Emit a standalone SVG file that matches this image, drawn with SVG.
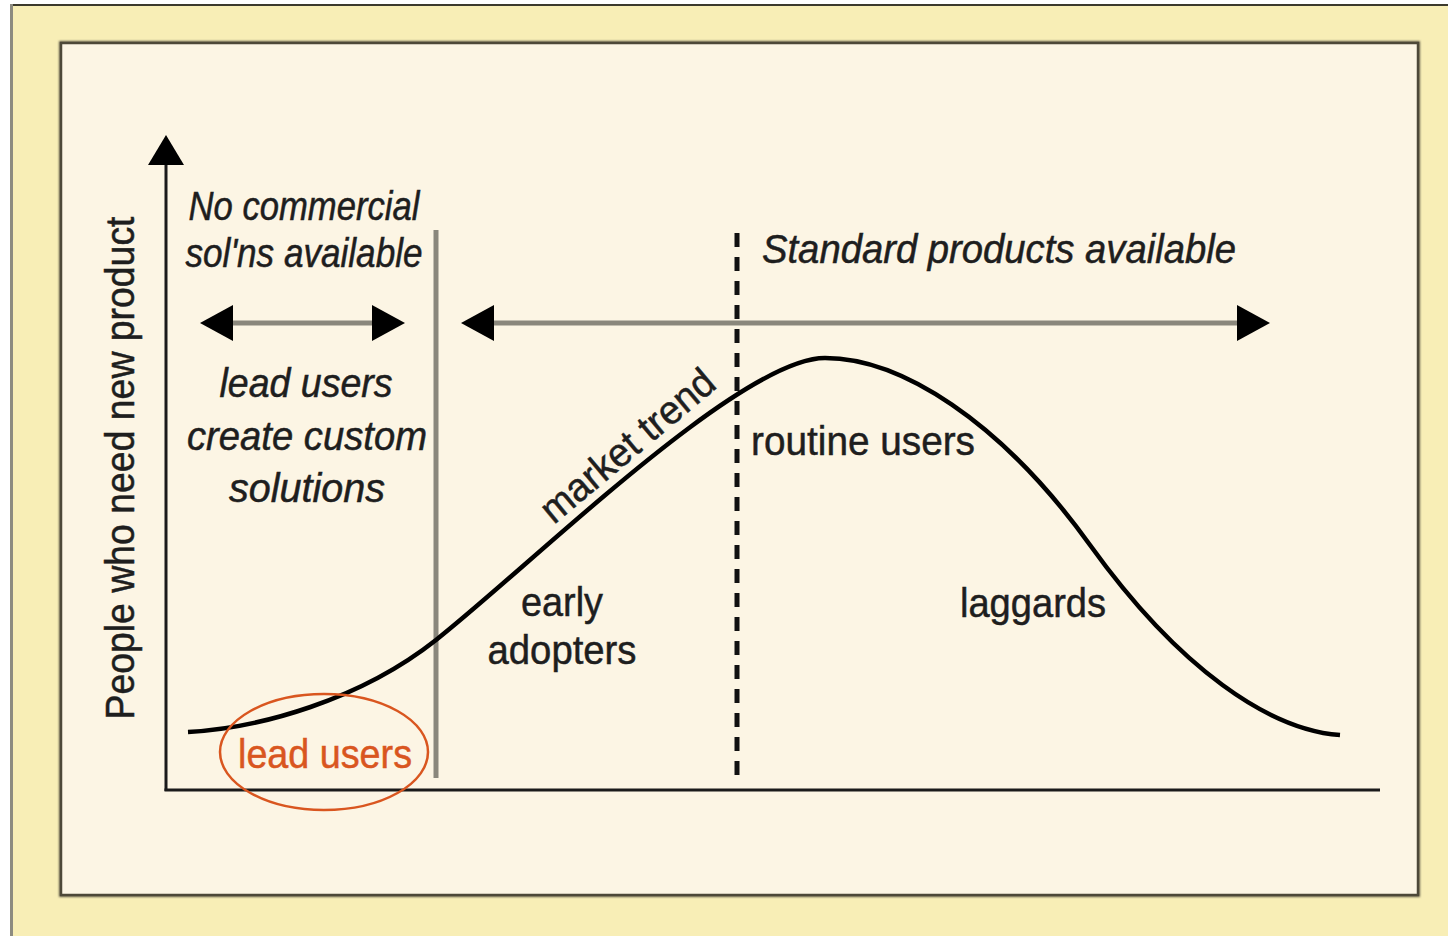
<svg xmlns="http://www.w3.org/2000/svg" width="1448" height="936" viewBox="0 0 1448 936">
  <style>
    .lbl { font-family: "Liberation Sans", Arial, sans-serif; font-size: 40px; fill: #1e1e1e; stroke: #1e1e1e; stroke-width: 0.5; }
    .it { font-style: italic; }
    .mid { text-anchor: middle; }
    .shaft { stroke: #8a877c; stroke-width: 5; fill: none; }
    .axis { stroke: #1a1a1a; stroke-width: 3; fill: none; }
    .head { fill: #000; }
  </style>
  <defs>
    <filter id="sh" x="-5%" y="-5%" width="110%" height="110%">
      <feGaussianBlur stdDeviation="1.2"/>
    </filter>
  </defs>
  <rect x="0" y="0" width="1448" height="936" fill="#ffffff"/>
  <rect x="10" y="4" width="1438" height="932" fill="#f8eeb6"/>
  <line x1="10" y1="5" x2="1448" y2="5" stroke="#3c3a2c" stroke-width="2"/>
  <line x1="11.5" y1="4" x2="11.5" y2="936" stroke="#8d8b80" stroke-width="3"/>

  <g id="panel">
    <rect x="61" y="43" width="1357" height="852" fill="none" stroke="#6a6550" stroke-width="4" filter="url(#sh)"/>
    <rect x="61" y="43" width="1357" height="852" fill="#fcf5e4" stroke="#4d4838" stroke-width="2.5"/>
  </g>

  <g id="axes">
    <line class="axis" x1="166" y1="160" x2="166" y2="791"/>
    <line class="axis" x1="164.5" y1="790" x2="1380" y2="790"/>
    <polygon class="head" points="166,135 184,165 148,165"/>
    <text class="lbl mid" transform="translate(134,468) rotate(-90)" textLength="503" lengthAdjust="spacingAndGlyphs">People who need new product</text>
  </g>

  <g id="connectors">
    <line x1="436" y1="230" x2="436" y2="778" stroke="#8a877c" stroke-width="5"/>
    <line x1="737" y1="233" x2="737" y2="775" stroke="#111" stroke-width="5" stroke-dasharray="14 10"/>
    <line class="shaft" x1="225" y1="323" x2="380" y2="323"/>
    <polygon class="head" points="200,323 233,305 233,341"/>
    <polygon class="head" points="405,323 372,305 372,341"/>
    <line class="shaft" x1="485" y1="323" x2="1245" y2="323"/>
    <polygon class="head" points="461,323 494,305 494,341"/>
    <polygon class="head" points="1270,323 1237,305 1237,341"/>
  </g>

  <g id="curve">
    <path d="M188,732 C260,728 360,700 436,640 C530,566 740,358 825,358 C900,358 1000,420 1090,545 C1180,670 1270,730 1340,735" fill="none" stroke="#000" stroke-width="4.5"/>
    <text class="lbl mid" transform="translate(636,456) rotate(-40)" textLength="215" lengthAdjust="spacingAndGlyphs">market trend</text>
  </g>

  <g id="left-region">
    <text class="lbl it mid" x="304" y="220" font-size="38" textLength="231" lengthAdjust="spacingAndGlyphs">No commercial</text>
    <text class="lbl it mid" x="304" y="267" font-size="38" textLength="237" lengthAdjust="spacingAndGlyphs">sol'ns available</text>
    <text class="lbl it mid" x="306" y="397" textLength="173" lengthAdjust="spacingAndGlyphs">lead users</text>
    <text class="lbl it mid" x="307" y="450" textLength="240" lengthAdjust="spacingAndGlyphs">create custom</text>
    <text class="lbl it mid" x="307" y="502" textLength="156" lengthAdjust="spacingAndGlyphs">solutions</text>
  </g>

  <g id="right-region">
    <text class="lbl it" x="762" y="263" textLength="474" lengthAdjust="spacingAndGlyphs">Standard products available</text>
    <text class="lbl" x="751" y="455" textLength="224" lengthAdjust="spacingAndGlyphs">routine users</text>
    <text class="lbl mid" x="562" y="616" textLength="82" lengthAdjust="spacingAndGlyphs">early</text>
    <text class="lbl mid" x="562" y="664" textLength="149" lengthAdjust="spacingAndGlyphs">adopters</text>
    <text class="lbl mid" x="1033" y="617" textLength="146" lengthAdjust="spacingAndGlyphs">laggards</text>
  </g>

  <g id="lead-users">
    <ellipse cx="324" cy="752" rx="104" ry="58" fill="none" stroke="#d9561f" stroke-width="2.5"/>
    <text class="lbl mid" x="325" y="768" style="fill:#d9561f;stroke:#d9561f" textLength="174" lengthAdjust="spacingAndGlyphs">lead users</text>
  </g>
</svg>
